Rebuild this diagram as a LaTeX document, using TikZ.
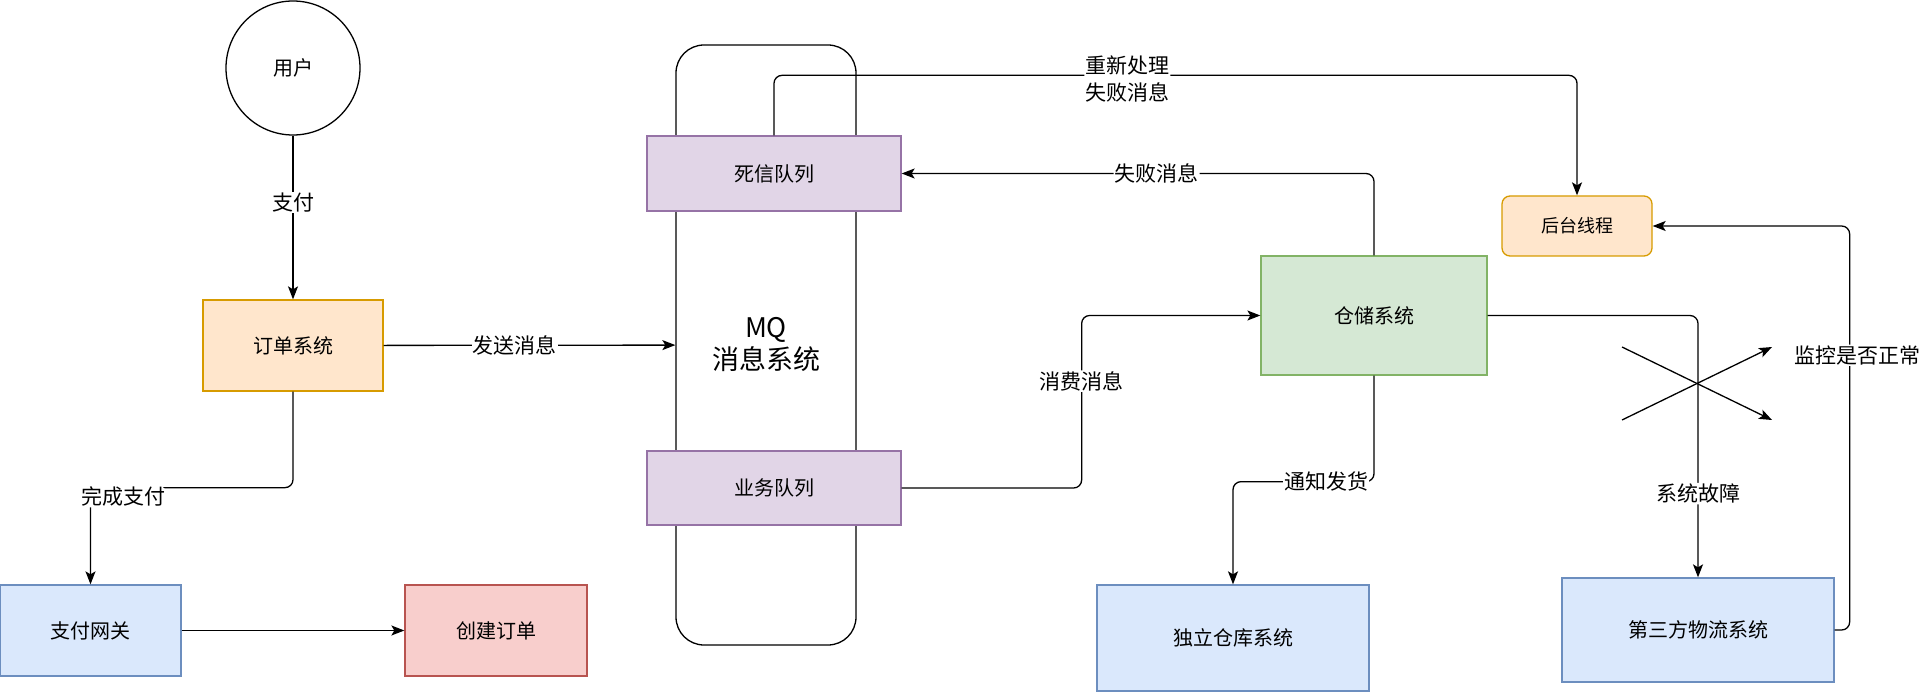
\documentclass[tikz,border=0pt]{standalone}
\usepackage{fontspec}
\setmainfont{Noto Sans CJK SC}
\usepackage{xcolor}
\usepackage{tikz}
\usetikzlibrary{arrows.meta}

\definecolor{orgfill}{HTML}{FFE6CC}
\definecolor{orgline}{HTML}{D79B00}
\definecolor{bluefill}{HTML}{DAE8FC}
\definecolor{blueline}{HTML}{6C8EBF}
\definecolor{grnfill}{HTML}{D5E8D4}
\definecolor{grnline}{HTML}{82B366}
\definecolor{purfill}{HTML}{E1D5E7}
\definecolor{purline}{HTML}{9673A6}
\definecolor{redfill}{HTML}{F8CECC}
\definecolor{redline}{HTML}{B85450}

\begin{document}
\begin{tikzpicture}[x=1pt,y=-1pt,->,>={Stealth[length=13pt,width=10pt,inset=3pt]},line width=1.3pt]
            \tikzset{box/.style={draw, rectangle, inner sep=2pt, font=\fontsize{20}{24}\selectfont},
                     lbl/.style={fill=white, inner sep=1pt, align=center, font=\fontsize{21}{27}\selectfont},
                     elbow/.style={rounded corners=8pt}}
            \useasboundingbox (0,0) rectangle (1920,692);
            \node[draw, circle, minimum size=134pt, font=\fontsize{20}{24}\selectfont] (User) at (293,68) {用户};
            \node[box, fill=orgfill, draw=orgline, minimum width=180pt, minimum height=91pt] (Order) at (293,345.5) {订单系统};
            \node[box, fill=bluefill, draw=blueline, minimum width=181pt, minimum height=91pt] (Pay) at (90.5,630.5) {支付网关};
            \node[box, fill=redfill, draw=redline, minimum width=182pt, minimum height=91pt] (Create) at (496,630.5) {创建订单};
            \node[draw, rounded corners=28pt, minimum width=180pt, minimum height=600pt, align=center, font=\fontsize{27}{32}\selectfont] (MQ) at (766,345) {MQ\\消息系统};
            \node[box, fill=purfill, draw=purline, minimum width=254pt, minimum height=75pt] (DLQ) at (774,173.5) {死信队列};
            \node[box, fill=purfill, draw=purline, minimum width=254pt, minimum height=74pt] (BQ) at (774,488) {业务队列};
            \node[box, fill=grnfill, draw=grnline, minimum width=226pt, minimum height=119pt] (Stock) at (1374,315.5) {仓储系统};
            \node[box, fill=orgfill, draw=orgline, rounded corners=8pt, minimum width=150pt, minimum height=60pt, font=\fontsize{18}{22}\selectfont] (BG) at (1577,226) {后台线程};
            \node[box, fill=bluefill, draw=blueline, minimum width=272pt, minimum height=106pt] (WH) at (1233,638) {独立仓库系统};
            \node[box, fill=bluefill, draw=blueline, minimum width=272pt, minimum height=104pt] (TPL) at (1698,630) {第三方物流系统};
            \coordinate (XA) at (1622,347);
            \coordinate (XB) at (1772,420);
            \coordinate (XC) at (1622,420);
            \coordinate (XD) at (1772,347);
            \path (User) edge node[lbl, pos=0.41] {支付} (Order);
            \path (Order) edge node[lbl, pos=0.45] {发送消息} (MQ);
            \path (Pay) edge (Create);
            \draw[elbow] (Order.south) -- ++(0,96) -| node[lbl, pos=0.5, xshift=33pt, yshift=-9pt] {完成支付} (Pay.north);
            \draw[elbow] (DLQ.north) -- ++(0,-60) -| node[lbl, pos=0.22, yshift=-4pt] {重新处理\\失败消息} (BG.north);
            \draw[elbow] (Stock.north) |- node[lbl, pos=0.73] {失败消息} (DLQ.east);
            \draw[elbow] (BQ.east) -- ++(180,0) |- node[lbl, pos=0.31] {消费消息} (Stock.west);
            \draw[elbow] (Stock.south) -- ++(0,106) -| node[lbl, pos=0.17] {通知发货} (WH.north);
            \draw[elbow] (Stock.east) -| node[lbl, pos=0.84] {系统故障} (TPL.north);
            \draw[elbow] (TPL.east) -- ++(15,0) |- node[lbl, pos=0.34, xshift=8pt] {监控是否正常} (BG.east);
            \draw (XA) -- (XB);
            \draw (XC) -- (XD);
        \end{tikzpicture}
\end{document}
